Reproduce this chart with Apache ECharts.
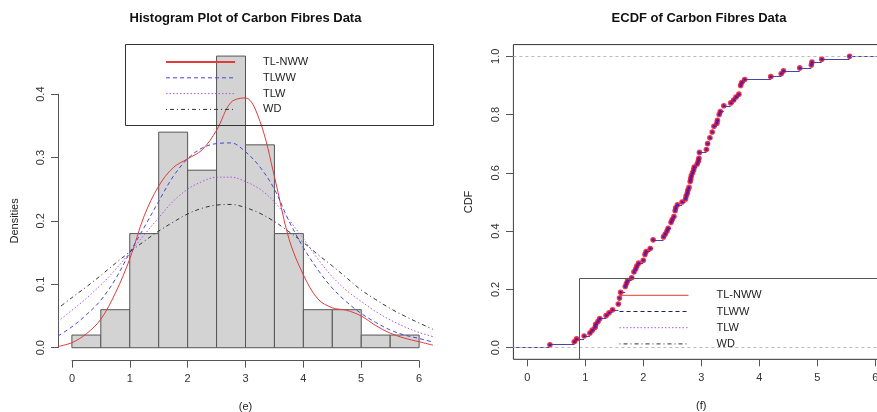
<!DOCTYPE html>
<html><head><meta charset="utf-8">
<script src="https://cdn.jsdelivr.net/npm/echarts@6/dist/echarts.min.js"></script>
<style>html,body{margin:0;padding:0;background:#fff}#c{width:877px;height:412px}</style>
</head><body><div id="c"></div>
<script>
// ---- data ----
const fibres = [0.39,0.81,0.85,0.98,1.08,1.12,1.17,1.18,1.22,1.25,
1.36,1.41,1.47,1.57,1.57,1.59,1.59,1.61,1.61,1.69,
1.69,1.71,1.73,1.80,1.84,1.84,1.87,1.89,1.92,2.00,
2.03,2.03,2.05,2.12,2.17,2.17,2.17,2.35,2.38,2.41,
2.43,2.48,2.48,2.50,2.53,2.55,2.55,2.56,2.59,2.67,
2.73,2.74,2.76,2.77,2.79,2.81,2.81,2.82,2.83,2.85,
2.87,2.88,2.93,2.95,2.96,2.97,2.97,3.09,3.11,3.11,
3.15,3.15,3.19,3.19,3.22,3.22,3.27,3.28,3.31,3.31,
3.33,3.39,3.39,3.51,3.56,3.60,3.65,3.68,3.68,3.68,
3.70,3.75,4.20,4.38,4.42,4.70,4.90,4.91,5.08,5.56];
const histEdges = [0,0.5,1,1.5,2,2.5,3,3.5,4,4.5,5,5.5,6];
const histDensity = [0.02,0.06,0.18,0.34,0.28,0.46,0.32,0.18,0.06,0.06,0.02,0.02];
const densX = [-0.24,0,0.25,0.5,0.75,1,1.25,1.5,1.75,2,2.25,2.5,2.75,3,3.25,3.5,3.75,4,4.25,4.5,4.75,5,5.25,5.5,5.75,6,6.24];
const tlnww = [0.002,0.008,0.022,0.045,0.086,0.140,0.208,0.255,0.284,0.298,0.312,0.343,0.387,0.394,0.357,0.270,0.172,0.115,0.077,0.063,0.059,0.050,0.035,0.023,0.015,0.0095,0.004];
const tlww  = [0.0185,0.033,0.052,0.075,0.108,0.150,0.190,0.231,0.270,0.298,0.315,0.322,0.323,0.309,0.285,0.250,0.200,0.158,0.123,0.094,0.072,0.054,0.040,0.028,0.020,0.0145,0.009];
const tlw   = [0.042,0.059,0.078,0.099,0.123,0.150,0.178,0.205,0.231,0.250,0.262,0.269,0.269,0.262,0.250,0.230,0.202,0.172,0.140,0.112,0.090,0.073,0.057,0.044,0.033,0.024,0.0175];
const wd    = [0.062,0.079,0.096,0.114,0.133,0.151,0.168,0.184,0.198,0.211,0.220,0.225,0.226,0.221,0.212,0.199,0.183,0.166,0.147,0.129,0.110,0.091,0.076,0.062,0.050,0.039,0.029];
const seriesNames = ['TL-NWW','TLWW','TLW','WD'];
const xTickLabels = ['0','1','2','3','4','5','6'];
const histYTicks = ['0.0','0.1','0.2','0.3','0.4'];
const ecdfYTicks = ['0.0','0.2','0.4','0.6','0.8','1.0'];
const titles = ['Histogram Plot of Carbon Fibres Data','ECDF of Carbon Fibres Data'];
const xNames = ['(e)','(f)'];
const yNames = ['Densities','CDF'];

// ---- derived ----
const histData = histDensity.map((d,i)=>[histEdges[i],histEdges[i+1],d]);
const curves = [tlnww,tlww,tlw,wd].map(arr=>arr.map((v,i)=>[densX[i],v]));
const sorted = fibres.slice().sort((a,b)=>a-b);
const n = sorted.length;
const knots = [];
sorted.forEach((v,i)=>{ if(i===n-1 || sorted[i+1]!==v) knots.push([v,(i+1)/n]); });
const ecdfRange = [-0.24,6.24];
const segs = [{coords:[[ecdfRange[0],0],[knots[0][0],0]]}];
knots.forEach((k,i)=>{
  const xe = i<knots.length-1 ? knots[i+1][0] : ecdfRange[1];
  segs.push({coords:[[k[0],k[1]],[xe,k[1]]]});
});

const FONT = '"Liberation Sans", Arial, Helvetica, sans-serif';
const curveStyles = [
  {color:'#e23b3b', type:'solid', width:1},
  {color:'#4646d8', type:[4,3], width:1},
  {color:'#b055e6', type:[1.5,2], width:1},
  {color:'#333333', type:[1,3,4,3], width:1}
];
const axisCommon = {
  axisLine:{show:true,onZero:false,lineStyle:{color:'#555',width:1}},
  axisTick:{show:true,length:7,lineStyle:{color:'#555',width:1}},
  splitLine:{show:false},
  nameTextStyle:{fontSize:11,color:'#222',fontFamily:FONT},
  nameLocation:'middle'
};
const legendHide = {opacity:0};
const G = {outerBoundsMode:'none',containLabel:false};

const chart = echarts.init(document.getElementById('c'),null,{renderer:'canvas'});
chart.setOption({
  animation:false,
  textStyle:{fontFamily:FONT},
  title:[
    {text:titles[0],left:245.5,top:12,padding:0,textAlign:'center',textStyle:{fontSize:13,fontWeight:'bold',color:'#111',fontFamily:FONT}},
    {text:titles[1],left:699,top:12,padding:0,textAlign:'center',textStyle:{fontSize:13,fontWeight:'bold',color:'#111',fontFamily:FONT}}
  ],
  grid:[
    Object.assign({left:58,top:44.4,width:375,height:315},G),
    Object.assign({left:72,top:94.1,width:347,height:253.6},G),
    Object.assign({left:513.4,top:44.6,width:375.6,height:314.7,show:true,borderColor:'#333',borderWidth:1,backgroundColor:'transparent'},G),
    Object.assign({left:527.3,top:56.3,width:348,height:291.4},G)
  ],
  xAxis:[
    {gridIndex:0,type:'value',min:-0.24,max:6.24,show:false},
    Object.assign({},axisCommon,{gridIndex:1,type:'value',min:0,max:6,interval:1,offset:13,name:xNames[0],nameGap:41,
      axisLabel:{fontSize:11,color:'#333',margin:13,formatter:v=>xTickLabels[Math.round(v)]}}),
    {gridIndex:2,type:'value',min:ecdfRange[0],max:ecdfRange[1],show:false},
    Object.assign({},axisCommon,{gridIndex:3,type:'value',min:0,max:6,interval:1,offset:11.6,name:xNames[1],nameGap:41.5,
      axisLabel:{fontSize:11,color:'#333',margin:13,formatter:v=>xTickLabels[Math.round(v)]}})
  ],
  yAxis:[
    {gridIndex:0,type:'value',min:-0.0184,max:0.4784,show:false},
    Object.assign({},axisCommon,{gridIndex:1,type:'value',min:0,max:0.4,interval:0.1,offset:14,name:yNames[0],nameGap:38,nameRotate:90,
      axisLabel:{fontSize:11,color:'#333',margin:12,rotate:90,formatter:v=>histYTicks[Math.round(v*10)]}}),
    {gridIndex:2,type:'value',min:-0.04,max:1.04,show:false},
    Object.assign({},axisCommon,{gridIndex:3,type:'value',min:0,max:1,interval:0.2,offset:14.3,name:yNames[1],nameGap:39,nameRotate:90,
      axisLabel:{fontSize:11,color:'#333',margin:12,rotate:90,formatter:v=>ecdfYTicks[Math.round(v*5)]}})
  ],
  legend:[
    {data:seriesNames.map((nm,i)=>({name:nm,itemStyle:legendHide,lineStyle:{width:i===0?2:1}})),left:160,top:50,orient:'vertical',itemWidth:69,itemHeight:14,itemGap:1.8,selectedMode:false,
      textStyle:{fontSize:11,color:'#222',lineHeight:14,padding:[0,0,0,23]}},
    {data:seriesNames.map(nm=>nm==='TLWW'?{name:nm,itemStyle:legendHide,lineStyle:{color:'#22225a',width:1}}:{name:nm,itemStyle:legendHide,lineStyle:{width:1}}),left:614,top:283.3,orient:'vertical',itemWidth:69,itemHeight:14,itemGap:2.2,selectedMode:false,
      textStyle:{fontSize:11,color:'#222',lineHeight:14,padding:[0,0,0,23]}}
  ],
  graphic:[
    {type:'rect',shape:{x:125.5,y:44.5,width:308,height:81},style:{fill:'none',stroke:'#333',lineWidth:1},z:10},
    {type:'rect',shape:{x:579.5,y:278.5,width:320,height:81},style:{fill:'none',stroke:'#555',lineWidth:1},z:10}
  ],
  series:[
    {type:'custom',xAxisIndex:0,yAxisIndex:0,data:histData,encode:{x:[0,1],y:2},z:1,silent:true,
      renderItem:function(params,api){
        const p0=api.coord([api.value(0),api.value(2)]);
        const p1=api.coord([api.value(1),0]);
        return {type:'rect',shape:{x:p0[0],y:p0[1],width:p1[0]-p0[0],height:p1[1]-p0[1]},
          style:{fill:'#d3d3d3',stroke:'#555',lineWidth:1}};
      }},
    ...seriesNames.map((nm,i)=>({name:nm,type:'line',xAxisIndex:0,yAxisIndex:0,data:curves[i],symbol:'none',
      smooth:0.35,lineStyle:curveStyles[i],itemStyle:{color:curveStyles[i].color},z:3,silent:true})),
    {type:'lines',coordinateSystem:'cartesian2d',xAxisIndex:2,yAxisIndex:2,data:segs,polyline:false,silent:true,z:2,
      lineStyle:{color:'#4646a8',width:1,opacity:1},
      markLine:{symbol:'none',silent:true,label:{show:false},lineStyle:{color:'#bbbbbb',type:[3,3],width:1},data:[{yAxis:0},{yAxis:1}]}},
    {type:'scatter',xAxisIndex:2,yAxisIndex:2,data:knots,symbolSize:5.6,itemStyle:{color:'#f0001c'},z:4,silent:true},
    {type:'scatter',xAxisIndex:2,yAxisIndex:2,data:knots,symbolSize:3,itemStyle:{color:'#2020d0'},z:5,silent:true}
  ]
});
</script></body></html>
